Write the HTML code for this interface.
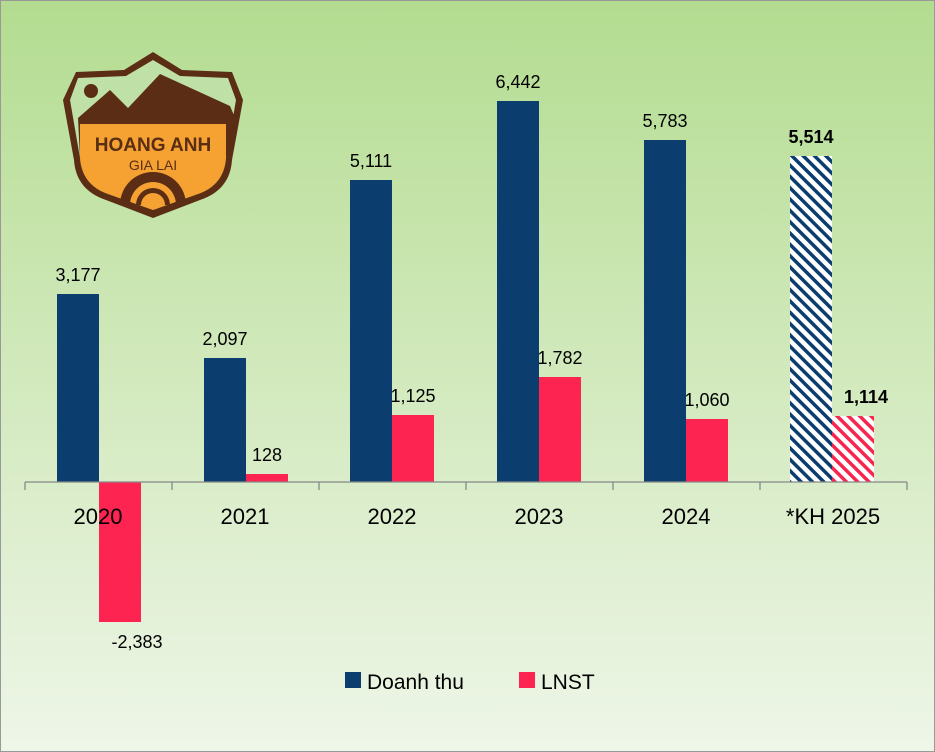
<!DOCTYPE html>
<html><head><meta charset="utf-8"><style>
body{margin:0;width:935px;height:752px;overflow:hidden}
svg{display:block}
text{font-family:"Liberation Sans",sans-serif}
</style></head><body>
<svg width="935" height="752" viewBox="0 0 935 752">
<defs>
<linearGradient id="bg" x1="0" y1="0" x2="0" y2="1">
<stop offset="0" stop-color="#b3dc90"/><stop offset="0.5" stop-color="#d2e9bd"/><stop offset="1" stop-color="#eef6e8"/>
</linearGradient>
<pattern id="hb" patternUnits="userSpaceOnUse" width="8" height="8" patternTransform="rotate(-45)">
<rect width="8" height="8" fill="#fff"/><rect width="3.5" height="8" fill="#0b3d6e"/>
</pattern>
<pattern id="hr" patternUnits="userSpaceOnUse" width="8" height="8" patternTransform="rotate(-45)">
<rect width="8" height="8" fill="#fff"/><rect width="3.5" height="8" fill="#f7264f"/>
</pattern>
</defs>
<rect x="0.5" y="0.5" width="934" height="751" fill="url(#bg)" stroke="#999"/>
<g>
<path d="M153,52 L182,70 L232,72 L243,100 L232,160 Q230,190 200,200 L153,218 L106,200 Q76,190 74,160 L63,100 L76,72 L124,70 Z" fill="#5a2d14"/>
<path d="M153,60 L180,76 L228,78 L236,100 L226,158 Q224,185 198,194 L153,210 L108,194 Q82,185 80,158 L70,100 L78,78 L126,76 Z" fill="#bfe0a6"/>
<path d="M78,118 L110,90 L128,108 L160,74 L230,106 L236,120 L226,158 Q224,185 198,194 L153,210 L108,194 Q82,185 80,158 Z" fill="#5a2d14"/>
<path d="M80,124 L226,124 L226,158 Q224,185 198,194 L153,210 L108,194 Q82,185 80,158 Z" fill="#f5a233"/>
<circle cx="91" cy="91" r="7" fill="#5a2d14"/>
<text x="153" y="151" font-size="19" font-weight="bold" fill="#5a2d14" text-anchor="middle" font-family="Liberation Sans Narrow,Liberation Sans,sans-serif">HOANG ANH</text>
<text x="153" y="170" font-size="14" fill="#5a2d14" text-anchor="middle" font-family="Liberation Serif,serif">GIA LAI</text>
<path d="M120,205 A33,33 0 0 1 186,205 L176,205 A23,23 0 0 0 130,205 Z" fill="#5a2d14"/>
<path d="M136,205 A17,17 0 0 1 170,205 L165,205 A12,12 0 0 0 141,205 Z" fill="#5a2d14"/>
</g>
<g fill="#0b3d6e">
<rect x="57" y="294" width="42" height="188"/>
<rect x="204" y="358" width="42" height="124"/>
<rect x="350" y="180" width="42" height="302"/>
<rect x="497" y="101" width="42" height="381"/>
<rect x="644" y="140" width="42" height="342"/>
</g>
<g fill="#fe2452">
<rect x="99" y="482" width="42" height="140"/>
<rect x="246" y="474" width="42" height="8"/>
<rect x="392" y="415" width="42" height="67"/>
<rect x="539" y="377" width="42" height="105"/>
<rect x="686" y="419" width="42" height="63"/>
</g>
<rect x="790" y="156" width="42" height="326" fill="url(#hb)"/>
<rect x="832" y="416" width="42" height="66" fill="url(#hr)"/>
<g stroke="#888" stroke-width="1.3">
<line x1="25" y1="482" x2="907" y2="482"/>
<line x1="25" y1="482" x2="25" y2="490"/><line x1="172" y1="482" x2="172" y2="490"/>
<line x1="319" y1="482" x2="319" y2="490"/><line x1="466" y1="482" x2="466" y2="490"/>
<line x1="613" y1="482" x2="613" y2="490"/><line x1="760" y1="482" x2="760" y2="490"/>
<line x1="907" y1="482" x2="907" y2="490"/>
</g>
<g font-size="22" text-anchor="middle" fill="#000">
<text x="98" y="524">2020</text><text x="245" y="524">2021</text><text x="392" y="524">2022</text>
<text x="539" y="524">2023</text><text x="686" y="524">2024</text><text x="833" y="524">*KH 2025</text>
</g>
<g font-size="18" text-anchor="middle" fill="#000">
<text x="78" y="281">3,177</text><text x="137" y="648">-2,383</text>
<text x="225" y="345">2,097</text><text x="267" y="461">128</text>
<text x="371" y="167">5,111</text><text x="413" y="402">1,125</text>
<text x="518" y="88">6,442</text><text x="560" y="364">1,782</text>
<text x="665" y="127">5,783</text><text x="707" y="406">1,060</text>
<text x="811" y="143" font-weight="bold">5,514</text><text x="866" y="403" font-weight="bold">1,114</text>
</g>
<rect x="345" y="672" width="16" height="16" fill="#0b3d6e"/>
<text x="367" y="689" font-size="21">Doanh thu</text>
<rect x="519" y="672" width="16" height="16" fill="#fe2452"/>
<text x="541" y="689" font-size="21">LNST</text>
</svg>
</body></html>
